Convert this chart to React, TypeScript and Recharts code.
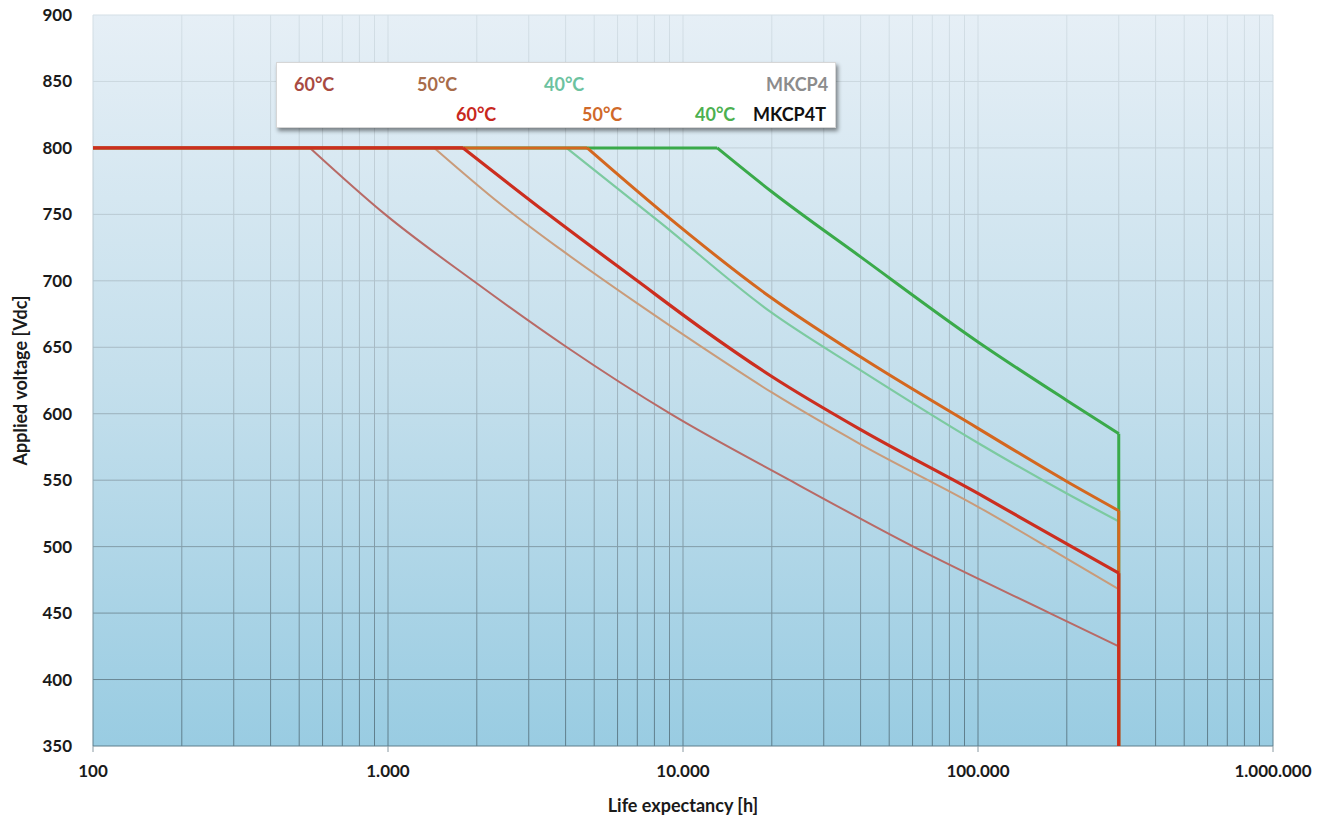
import React from 'react';
import { ComposedChart, Line, XAxis, YAxis, CartesianGrid, Label } from 'recharts';

const FONT = 'Lato, "Open Sans", sans-serif';

// x axis (life expectancy, hours) – log grid values
const xGridValues = [
  100, 200, 300, 400, 500, 600, 700, 800, 900,
  1000, 2000, 3000, 4000, 5000, 6000, 7000, 8000, 9000,
  10000, 20000, 30000, 40000, 50000, 60000, 70000, 80000, 90000,
  100000, 200000, 300000, 400000, 500000, 600000, 700000, 800000, 900000,
  1000000,
];
const decadeTicks = [100, 1000, 10000, 100000, 1000000];
const decadeLabels = ['100', '1.000', '10.000', '100.000', '1.000.000'];
const yTicks = [350, 400, 450, 500, 550, 600, 650, 700, 750, 800, 850, 900];

// MKCP4 (thin) curves
const mkcp4_60 = [
  { h: 544, v: 800 }, { h: 978, v: 750 }, { h: 1945, v: 700 }, { h: 4040, v: 650 },
  { h: 9050, v: 600 }, { h: 23000, v: 550 }, { h: 60400, v: 500 }, { h: 175000, v: 450 },
  { h: 300000, v: 425 },
];
const mkcp4_50 = [
  { h: 1435, v: 800 }, { h: 2400, v: 758 }, { h: 3830, v: 724 }, { h: 7000, v: 683 },
  { h: 11430, v: 651 }, { h: 20000, v: 616 }, { h: 40000, v: 577 }, { h: 100000, v: 530 },
  { h: 200000, v: 491 }, { h: 300000, v: 468 },
];
const mkcp4_40 = [
  { h: 4027, v: 800 }, { h: 8360, v: 744 }, { h: 19700, v: 677 }, { h: 39800, v: 633 },
  { h: 100000, v: 578 }, { h: 200000, v: 540 }, { h: 300000, v: 519 },
];

// MKCP4T (thick) curves
const mkcp4t_60 = [
  { h: 1795, v: 800 }, { h: 3450, v: 751 }, { h: 7000, v: 700 }, { h: 11430, v: 665 },
  { h: 20000, v: 628 }, { h: 40000, v: 588 }, { h: 100000, v: 540 }, { h: 200000, v: 502 },
  { h: 300000, v: 480 },
];
const mkcp4t_50 = [
  { h: 4733, v: 800 }, { h: 8360, v: 753 }, { h: 19700, v: 688 }, { h: 39800, v: 643 },
  { h: 100000, v: 589 }, { h: 200000, v: 549 }, { h: 300000, v: 527 },
];
const mkcp4t_40 = [
  { h: 13060, v: 800 }, { h: 20000, v: 767 }, { h: 40000, v: 718 }, { h: 100000, v: 654 },
  { h: 200000, v: 610 }, { h: 300000, v: 585 },
];

// flat plateau at 800 V and end-of-life drop at 300.000 h for MKCP4T
const flat_40 = [{ h: 100, v: 800 }, { h: 13060, v: 800 }];
const flat_50 = [{ h: 100, v: 800 }, { h: 4733, v: 800 }];
const flat_60 = [{ h: 100, v: 800 }, { h: 1795, v: 800 }];
const drop_40 = [{ h: 300000, v: 585 }, { h: 300000, v: 350 }];
const drop_50 = [{ h: 300000, v: 527 }, { h: 300000, v: 350 }];
const drop_60 = [{ h: 300000, v: 480 }, { h: 300000, v: 350 }];

const C = {
  t60: '#cc2e1f', t50: '#d4671f', t40: '#3aaa4a',
  p60: '#b86a66', p50: '#c99b7a', p40: '#7ccaa0',
};

const legendRow1 = [
  { text: '60°C', left: 293, color: '#a84a42' },
  { text: '50°C', left: 416, color: '#a86c4a' },
  { text: '40°C', left: 543, color: '#6cc2a0' },
  { text: 'MKCP4', left: 765, color: '#8c8c8c' },
];
const legendRow2 = [
  { text: '60°C', left: 455, color: '#c8281e' },
  { text: '50°C', left: 581, color: '#d0692a' },
  { text: '40°C', left: 694, color: '#4cb050' },
  { text: 'MKCP4T', left: 752, color: '#111111' },
];

const TOP_SHIFT = 8; // chart svg starts at the very top of the page

const XTick = (props: any) => {
  const { x, y, payload } = props;
  const i = decadeTicks.indexOf(payload.value);
  if (i < 0) return <g />;
  return (
    <g>
      <line x1={x} x2={x} y1={y} y2={y + 6} stroke="#8a9aa2" />
      <text x={x} y={y + 31} textAnchor="middle" fontFamily={FONT} fontWeight={700} fontSize={17} fill="#1a1a1a">
        {decadeLabels[i]}
      </text>
    </g>
  );
};

const YLabel = (props: any) => {
  const vb = props.viewBox;
  const cx = vb.x + 12;
  const cy = vb.y + vb.height / 2;
  return (
    <text x={cx} y={cy} transform={`rotate(-90, ${cx}, ${cy})`} textAnchor="middle" dominantBaseline="central"
      fontFamily={FONT} fontWeight={700} fontSize={18} fill="#1a1a1a">
      Applied voltage [Vdc]
    </text>
  );
};

const XLabel = (props: any) => {
  const vb = props.viewBox;
  return (
    <text x={vb.x + vb.width / 2} y={vb.y + 59} textAnchor="middle" dominantBaseline="central"
      fontFamily={FONT} fontWeight={700} fontSize={18} fill="#1a1a1a">
      Life expectancy [h]
    </text>
  );
};

const common = { dataKey: 'v', dot: false, activeDot: false, isAnimationActive: false, legendType: 'none' as const };

export default function App() {
  return (
    <div style={{ position: 'relative', width: 1318, height: 821, marginTop: -TOP_SHIFT }}>
      <ComposedChart width={1318} height={821} margin={{ top: 7 + TOP_SHIFT, right: 53, left: 0, bottom: 0 }}>
        <defs>
          <linearGradient id="bgGrad" x1="0" y1="0" x2="0" y2="1">
            <stop offset="0%" stopColor="#e6eff6" />
            <stop offset="50%" stopColor="#c4dfec" />
            <stop offset="100%" stopColor="#99cce2" />
          </linearGradient>
          <linearGradient id="gridGrad" gradientUnits="userSpaceOnUse" x1="0" y1={7 + TOP_SHIFT} x2="0" y2={738 + TOP_SHIFT}>
            <stop offset="0%" stopColor="#d4dfe6" />
            <stop offset="45%" stopColor="#a8bbc5" />
            <stop offset="100%" stopColor="#5d7d8b" />
          </linearGradient>
        </defs>
        <CartesianGrid fill="url(#bgGrad)" stroke="url(#gridGrad)" strokeWidth={1} />
        <XAxis
          dataKey="h" type="number" scale="log" domain={[100, 1000000]} allowDataOverflow
          ticks={xGridValues} interval={0} tick={<XTick />} tickLine={false} axisLine={false}
          tickSize={0} tickMargin={0} height={75}
        >
          <Label content={<XLabel />} />
        </XAxis>
        <YAxis
          dataKey="v" type="number" domain={[350, 900]} ticks={yTicks} interval={0} allowDataOverflow
          tickLine={false} axisLine={false} tickSize={0} tickMargin={21} width={85}
          tick={{ fill: '#1a1a1a', fontSize: 17, fontWeight: 700, fontFamily: FONT }}
        >
          <Label content={<YLabel />} />
        </YAxis>

        <Line {...common} data={mkcp4_60} type="monotoneX" stroke={C.p60} strokeWidth={2} />
        <Line {...common} data={mkcp4_50} type="monotoneX" stroke={C.p50} strokeWidth={2} />
        <Line {...common} data={mkcp4_40} type="monotoneX" stroke={C.p40} strokeWidth={2.2} />

        <Line {...common} data={flat_40} type="linear" stroke={C.t40} strokeWidth={3} />
        <Line {...common} data={mkcp4t_40} type="monotoneX" stroke={C.t40} strokeWidth={3} />
        <Line {...common} data={drop_40} type="linear" stroke={C.t40} strokeWidth={3} />

        <Line {...common} data={flat_50} type="linear" stroke={C.t50} strokeWidth={3} />
        <Line {...common} data={mkcp4t_50} type="monotoneX" stroke={C.t50} strokeWidth={3} />
        <Line {...common} data={drop_50} type="linear" stroke={C.t50} strokeWidth={3} />

        <Line {...common} data={flat_60} type="linear" stroke={C.t60} strokeWidth={3.2} />
        <Line {...common} data={mkcp4t_60} type="monotoneX" stroke={C.t60} strokeWidth={3.2} />
        <Line {...common} data={drop_60} type="linear" stroke={C.t60} strokeWidth={3.2} />
      </ComposedChart>

      <div
        style={{
          position: 'absolute', left: 268, top: 54 + TOP_SHIFT, width: 560, height: 66, background: '#ffffff',
          border: '1px solid #d6d6d6', boxShadow: '2px 3px 4px rgba(0,0,0,0.45)', boxSizing: 'border-box',
          fontFamily: FONT, fontWeight: 700, fontSize: 18,
        }}
      >
        {legendRow1.map((d) => (
          <span key={'r1' + d.text} style={{ position: 'absolute', left: d.left - 276, top: 21, transform: 'translateY(-50%)', color: d.color, lineHeight: 1, whiteSpace: 'nowrap' }}>
            {d.text}
          </span>
        ))}
        {legendRow2.map((d) => (
          <span key={'r2' + d.text} style={{ position: 'absolute', left: d.left - 276, top: 51, transform: 'translateY(-50%)', color: d.color, lineHeight: 1, whiteSpace: 'nowrap' }}>
            {d.text}
          </span>
        ))}
      </div>
    </div>
  );
}
